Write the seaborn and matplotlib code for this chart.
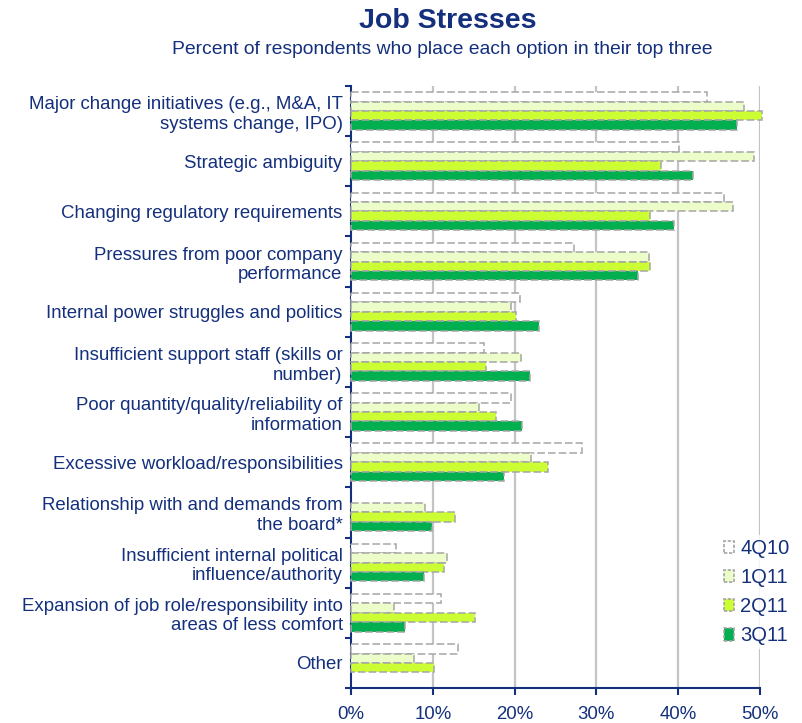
import numpy as np
import pandas as pd
import matplotlib
matplotlib.use("Agg")
import matplotlib.pyplot as plt
from matplotlib.patches import Patch
import seaborn as sns

categories = [
    "Major change initiatives (e.g., M&A, IT\nsystems change, IPO)",
    "Strategic ambiguity",
    "Changing regulatory requirements",
    "Pressures from poor company\nperformance",
    "Internal power struggles and politics",
    "Insufficient support staff (skills or\nnumber)",
    "Poor quantity/quality/reliability of\ninformation",
    "Excessive workload/responsibilities",
    "Relationship with and demands from\nthe board*",
    "Insufficient internal political\ninfluence/authority",
    "Expansion of job role/responsibility into\nareas of less comfort",
    "Other",
]
quarters = ["4Q10", "1Q11", "2Q11", "3Q11"]
q4_10 = [43.5, 40.1, 45.6, 27.3, 20.7, 16.3, 19.6, 28.3, np.nan, 5.5, 11.0, 13.1]
q1_11 = [48.0, 49.3, 46.7, 36.4, 19.5, 20.8, 15.6, 22.0, 9.1, 11.7, 5.3, 7.7]
q2_11 = [50.2, 37.9, 36.6, 36.6, 20.2, 16.5, 17.7, 24.1, 12.7, 11.4, 15.2, 10.1]
q3_11 = [47.2, 41.8, 39.5, 35.1, 23.0, 21.9, 20.9, 18.7, 9.9, 8.9, 6.6, np.nan]
x_ticks = [0, 10, 20, 30, 40, 50]
x_tick_labels = ["0%", "10%", "20%", "30%", "40%", "50%"]

colors = ["#FFFFFF", "#EDFDC9", "#CCFF33", "#00B050"]
navy = "#14307C"
edge_gray = "#A6A6A6"

series = [q4_10, q1_11, q2_11, q3_11]
df = pd.DataFrame({
    "category": np.tile(categories, len(quarters)),
    "quarter": np.repeat(quarters, len(categories)),
    "value": np.concatenate([np.asarray(s, dtype=float) for s in series]),
}).dropna()

sns.set_theme(style="white")
plt.rcParams["font.family"] = ["Liberation Sans", "DejaVu Sans"]

fig = plt.figure(figsize=(8.02, 7.23), dpi=100)
ax = fig.add_axes([351 / 802, 1 - 688 / 723, 409 / 802, 602 / 723])

sns.barplot(
    data=df, y="category", x="value", hue="quarter",
    order=categories, hue_order=quarters, palette=colors,
    orient="h", width=0.75, errorbar=None, ax=ax, legend=False,
    saturation=1,
)

for p in ax.patches:
    p.set_edgecolor(edge_gray)
    p.set_linewidth(1.1)
    p.set_linestyle((0, (5, 2)))
    p.set_clip_on(False)
    p.set_zorder(3)

ax.set_xlim(0, 50)
ax.set_ylim(len(categories) - 0.5, -0.5)
ax.set_xticks(x_ticks)
ax.set_xticklabels(x_tick_labels)
ax.set_xlabel("")
ax.set_ylabel("")

for x in x_ticks[1:]:
    ax.axvline(x, color="#C4C4C4", lw=1.6, zorder=0)

ax.set_yticks(range(len(categories)))
ax.set_yticklabels(categories, fontsize=13.4, color=navy)
ax.set_yticks(np.arange(-0.5, len(categories) + 0.5, 1), minor=True)
ax.tick_params(axis="y", which="major", length=0, pad=6)
ax.tick_params(axis="y", which="minor", length=4, width=1.5, color=navy, direction="out", left=True)
ax.tick_params(axis="x", which="major", length=5, width=1.5, color=navy, direction="out",
               labelsize=13.4, labelcolor=navy, pad=8, bottom=True)

for side in ["top", "right"]:
    ax.spines[side].set_visible(False)
for side in ["left", "bottom"]:
    ax.spines[side].set_color(navy)
    ax.spines[side].set_linewidth(1.5)

fig.text(0.558, 1 - 28 / 723, "Job Stresses", ha="center", va="baseline",
         fontsize=20.5, fontweight="bold", color=navy)
fig.text(0.551, 1 - 54 / 723, "Percent of respondents who place each option in their top three",
         ha="center", va="baseline", fontsize=13.9, color=navy)

handles = [Patch(facecolor=c, edgecolor=edge_gray, linestyle=(0, (2, 1)), linewidth=1.2, label=q)
           for c, q in zip(colors, quarters)]
leg = fig.legend(handles=handles, loc="upper left", bbox_to_anchor=(720 / 802, 1 - 535 / 723),
                 frameon=True, fontsize=14.5, handlelength=0.5, handleheight=0.6,
                 handletextpad=0.3, labelspacing=0.5, borderpad=0.2, borderaxespad=0)
leg.get_frame().set_edgecolor("none")
leg.get_frame().set_facecolor("white")
for t in leg.get_texts():
    t.set_color(navy)

fig.savefig("out.png", dpi=100)
